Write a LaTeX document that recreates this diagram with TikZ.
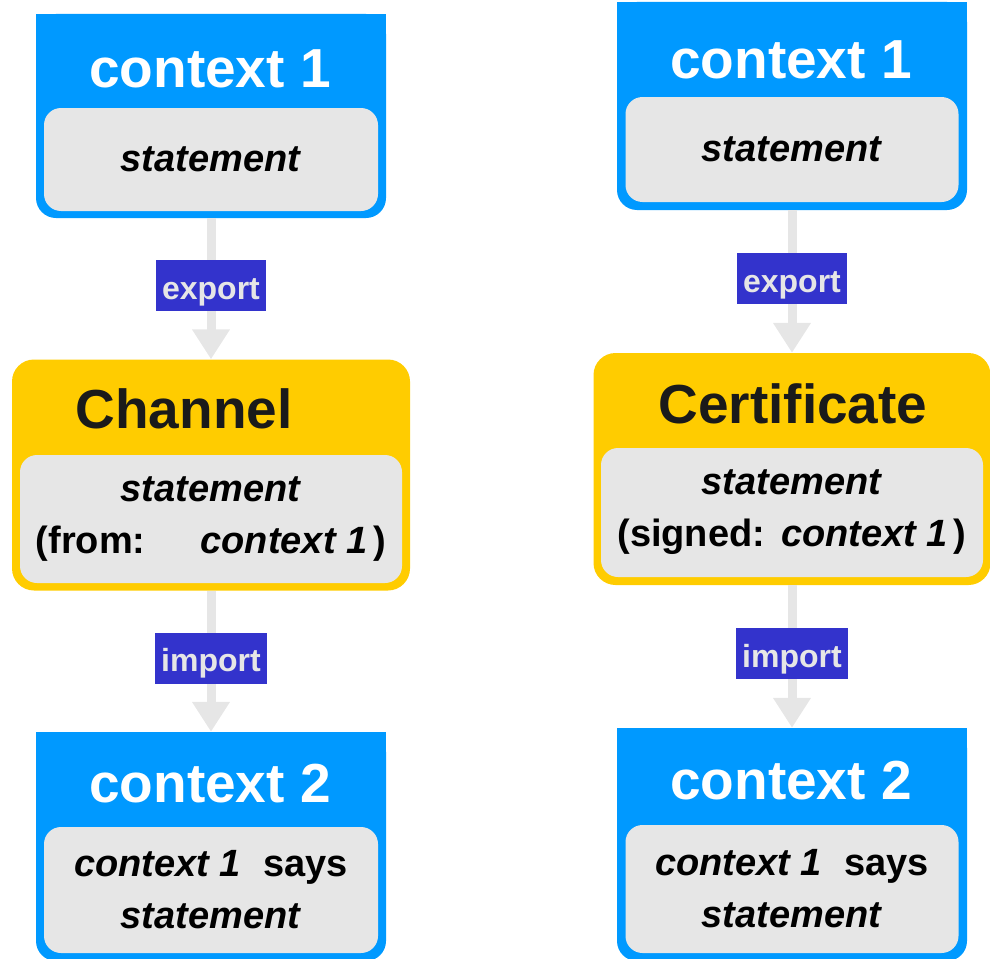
\documentclass[tikz,border=0pt]{standalone}
\usepackage{fontspec}
\setmainfont{Liberation Sans}
\usepackage{tikz}
\usetikzlibrary{arrows.meta,positioning}
\tikzset{font={\bfseries\fontsize{38pt}{52pt}\selectfont}}
\definecolor{ctxblue}{RGB}{0,153,255}
\definecolor{chanyellow}{RGB}{255,204,0}
\definecolor{stmtgray}{RGB}{230,230,230}
\definecolor{labelblue}{RGB}{51,51,204}
\definecolor{titledark}{RGB}{26,26,26}

\begin{document}
\begin{tikzpicture}[x=1pt,y=-1pt,
ctxbox/.style={fill=ctxblue,rounded corners=20pt,minimum width=350pt,inner sep=0pt},
chanbox/.style={fill=chanyellow,rounded corners=22pt,minimum width=398pt,minimum height=231pt,inner sep=0pt},
stmtbox/.style={fill=stmtgray,rounded corners=17pt,inner sep=0pt,align=center},
boxtitle/.style={anchor=base,font={\bfseries\fontsize{55pt}{60pt}\selectfont}},
flowlabel/.style={fill=labelblue,text=stmtgray,inner xsep=6pt,inner ysep=0pt,minimum height=51pt,text height=27pt,text depth=0pt,font={\bfseries\fontsize{32pt}{36pt}\selectfont}},
flow/.style={draw=stmtgray,line width=9pt,-{Triangle[width=36pt,length=30pt]}}
]
\useasboundingbox (0,0) rectangle (990,958);

%outer boxes
\node[ctxbox,minimum height=204pt] (c1L) at (211,116) {};
\node[chanbox] (chL) at (211,475) {};
\node[ctxbox,minimum height=229pt] (c2L) at (211,846.5) {};
\node[ctxbox,minimum height=208pt] (c1R) at (792,106) {};
\node[chanbox,minimum width=397pt,minimum height=232pt] (ceR) at (792,469) {};
\node[ctxbox,minimum height=233pt] (c2R) at (792,844.5) {};
\foreach \n in {c1L,c2L,c1R,c2R}
  \fill[ctxblue] (\n.north west) rectangle ([yshift=-30pt]\n.north east);

%titles
\node[boxtitle,text=white] (t1L) at (210,88) {context 1};
\node[boxtitle,text=titledark] (tchL) at (184,428) {Channel};
\node[boxtitle,text=white] (t2L) at (210,802) {context 2};
\node[boxtitle,text=white] (t1R) at (791,78) {context 1};
\node[boxtitle,text=titledark] (tceR) at (793,423) {Certificate};
\node[boxtitle,text=white] (t2R) at (791,799) {context 2};

%statements
\node[stmtbox,minimum width=334pt,minimum height=103pt] (g1L) at (211,159.5) {\textit{statement}};
\node[stmtbox,minimum width=382pt,minimum height=128pt] (gchL) at (211,519)
  {\textit{statement}\\(from:\hspace{55pt}\textit{context 1}\hspace{6pt})};
\node[stmtbox,minimum width=334pt,minimum height=126pt] (g2L) at (211,890)
  {\textit{context 1}\hspace{22pt}says\\\textit{statement}};
\node[stmtbox,minimum width=333pt,minimum height=105pt] (g1R) at (792,149.5) {\textit{statement}};
\node[stmtbox,minimum width=382pt,minimum height=129pt] (gceR) at (792,512.5)
  {\textit{statement}\\(signed:\hspace{16pt}\textit{context 1}\hspace{6pt})};
\node[stmtbox,minimum width=333pt,minimum height=128pt] (g2R) at (792,889)
  {\textit{context 1}\hspace{22pt}says\\\textit{statement}};

%flows
\draw[flow] (c1L) -- node[flowlabel,pos=0.48] (exL) {export} (chL);
\draw[flow] (chL) -- node[flowlabel,pos=0.48] (imL) {import} (c2L);
\draw[flow] (c1R) -- node[flowlabel,pos=0.48] (exR) {export} (ceR);
\draw[flow] (ceR) -- node[flowlabel,pos=0.48] (imR) {import} (c2R);

\end{tikzpicture}
\end{document}
